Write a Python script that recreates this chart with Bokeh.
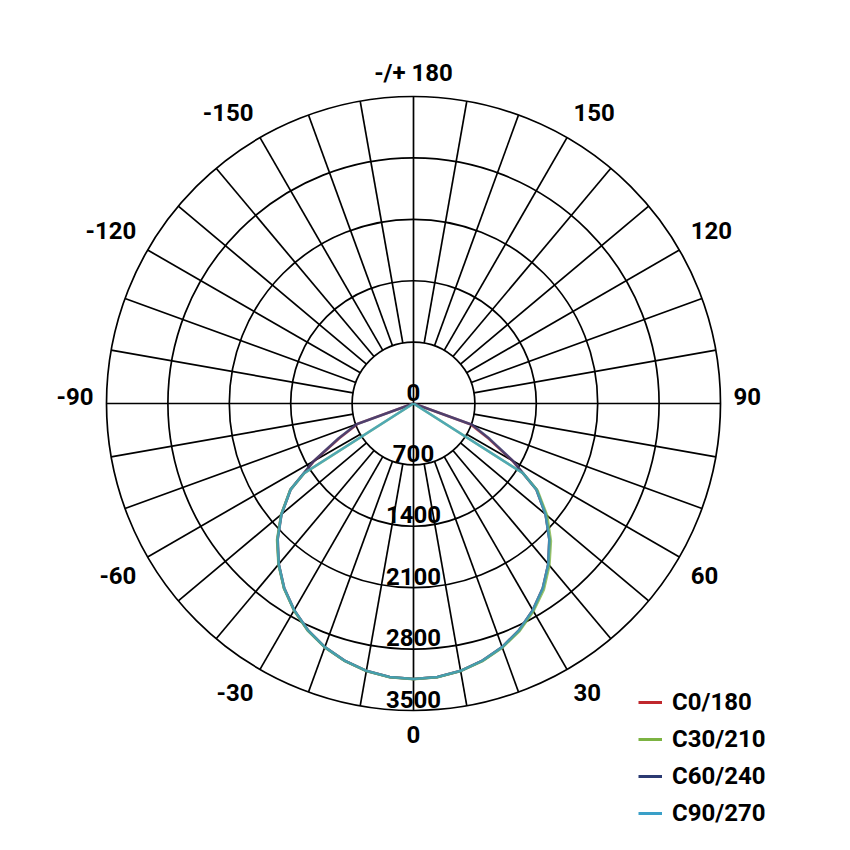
import numpy as np
from bokeh.plotting import figure
from bokeh.models import Range1d, Legend, LegendItem
from bokeh.core.properties import value
from bokeh.embed import file_html
from bokeh.resources import INLINE

# ---------------- data ----------------
gamma = list(range(-90, 91, 5))
gamma_cut = [-90, -60, -57.5] + list(range(-55, 56, 5)) + [57.5, 60, 90]

c0_180 = [0, 0, 0, 0, 680, 930, 1310, 1710, 1965, 2190, 2390, 2570, 2720, 2850, 2955, 3035, 3095, 3130, 3140,
          3130, 3095, 3035, 2955, 2850, 2720, 2570, 2390, 2190, 1965, 1710, 1300, 940, 690, 0, 0, 0, 0]
c30_210 = [0, 0, 1470, 1715, 1970, 2200, 2395, 2575, 2725, 2855, 2958, 3038, 3097, 3132, 3142,
           3132, 3097, 3040, 2962, 2862, 2735, 2590, 2410, 2215, 1990, 1725, 1480, 0, 0]
c60_240 = [0, 0, 0, 0, 690, 945, 1315, 1712, 1967, 2195, 2392, 2572, 2722, 2852, 2956, 3036, 3096, 3131, 3141,
           3131, 3096, 3036, 2956, 2852, 2722, 2572, 2392, 2192, 1967, 1712, 1310, 960, 710, 0, 0, 0, 0]
c90_270 = [0, 0, 1480, 1710, 1965, 2190, 2390, 2570, 2720, 2850, 2955, 3035, 3095, 3130, 3140,
           3130, 3095, 3035, 2955, 2850, 2720, 2570, 2390, 2190, 1965, 1710, 1480, 0, 0]

ring_values = [700, 1400, 2100, 2800, 3500]
ring_labels = ["0", "700", "1400", "2100", "2800", "3500"]
ring_label_values = [0, 700, 1400, 2100, 2800, 3500]
angle_ticks = [0, 30, 60, 90, 120, 150, 180, -150, -120, -90, -60, -30]
angle_labels = ["0", "30", "60", "90", "120", "150", "-/+ 180", "-150", "-120", "-90", "-60", "-30"]
spoke_angles = list(range(0, 360, 10))

series_names = ["C0/180", "C30/210", "C60/240", "C90/270"]
series_gamma = [gamma, gamma_cut, gamma, gamma_cut]
series_vals = [c0_180, c30_210, c60_240, c90_270]
series_colors = ["#c0282d", "#7cb342", "#2b3a72", "#3aa0c8"]
draw_order = [0, 2, 1, 3]

# ---------------- layout ----------------
W = H = 834
CX, CY = 413, 403          # centre of the diagram in figure pixels (from top-left)
RMAX = max(ring_values)
PX = RMAX / 307.0          # cd per pixel
FONT = "Roboto"
FSTYLE = "bold"

p = figure(width=W, height=H,
           x_range=Range1d(-CX * PX, (W - CX) * PX),
           y_range=Range1d(-(H - CY) * PX, CY * PX),
           x_axis_type=None, y_axis_type=None,
           toolbar_location=None, output_backend="svg", min_border=0)
p.outline_line_color = None
p.background_fill_color = "white"


def xy(r, g):
    g = np.radians(np.asarray(g, dtype=float))
    r = np.asarray(r, dtype=float)
    return r * np.sin(g), -r * np.cos(g)


# rings
p.circle(x=[0] * len(ring_values), y=[0] * len(ring_values), radius=ring_values,
         fill_color=None, line_color="black", line_width=1.7)

# spokes
inner = ring_values[0]
r_start = [0 if a % 90 == 0 else inner for a in spoke_angles]
x0, y0 = xy(r_start, spoke_angles)
x1, y1 = xy([RMAX] * len(spoke_angles), spoke_angles)
p.segment(x0=x0, y0=y0, x1=x1, y1=y1, line_color="black", line_width=1.7)

# curves (semi-transparent so the overlapping planes blend)
swatches = {}
for i in draw_order:
    xs, ys = xy(series_vals[i], series_gamma[i])
    p.line(xs, ys, line_color=series_colors[i], line_width=2.6,
           line_alpha=0.78, line_join="round")
    # opaque legend swatch: a single-point line (draws nothing on the plot)
    swatches[i] = p.line(xs[:1], ys[:1], line_color=series_colors[i], line_width=3)

# radial labels
lx, ly = xy(ring_label_values, [0] * len(ring_label_values))
p.text(x=lx, y=ly, text=ring_labels, text_align="center", text_baseline="bottom",
       y_offset=-3, text_font=value(FONT), text_font_style=FSTYLE,
       text_font_size="24px", text_color="black")

# angle labels
R_LAB = 320 * PX
ax, ay = xy([R_LAB] * len(angle_ticks), angle_ticks)
groups = {}
eps = 1e-6 * RMAX
for xi, yi, t in zip(ax, ay, angle_labels):
    al = "left" if xi > eps else ("right" if xi < -eps else "center")
    bl = "bottom" if yi > eps else ("top" if yi < -eps else "middle")
    groups.setdefault((al, bl), []).append((xi, yi, t))
y_offsets = {("center", "bottom"): 3, ("side", "bottom"): -5, ("center", "top"): 2,
             ("side", "top"): 3, ("side", "middle"): -7}
for (al, bl), items in groups.items():
    key = ("center" if al == "center" else "side", bl)
    p.text(x=[i[0] for i in items], y=[i[1] for i in items], text=[i[2] for i in items],
           text_align=al, text_baseline=bl, y_offset=y_offsets.get(key, 0),
           text_font=value(FONT), text_font_style=FSTYLE,
           text_font_size="24px", text_color="black")

legend = Legend(items=[LegendItem(label=series_names[i], renderers=[swatches[i]]) for i in range(4)],
                location=(638, 7), orientation="vertical",
                label_text_font=FONT, label_text_font_style=FSTYLE,
                label_text_font_size="24px", label_text_color="black",
                glyph_width=24, glyph_height=28, label_height=28, label_standoff=10,
                spacing=9, padding=0, margin=0,
                border_line_color=None, background_fill_alpha=0)
p.add_layout(legend)

open("out.html", "w").write(file_html(p, INLINE))
